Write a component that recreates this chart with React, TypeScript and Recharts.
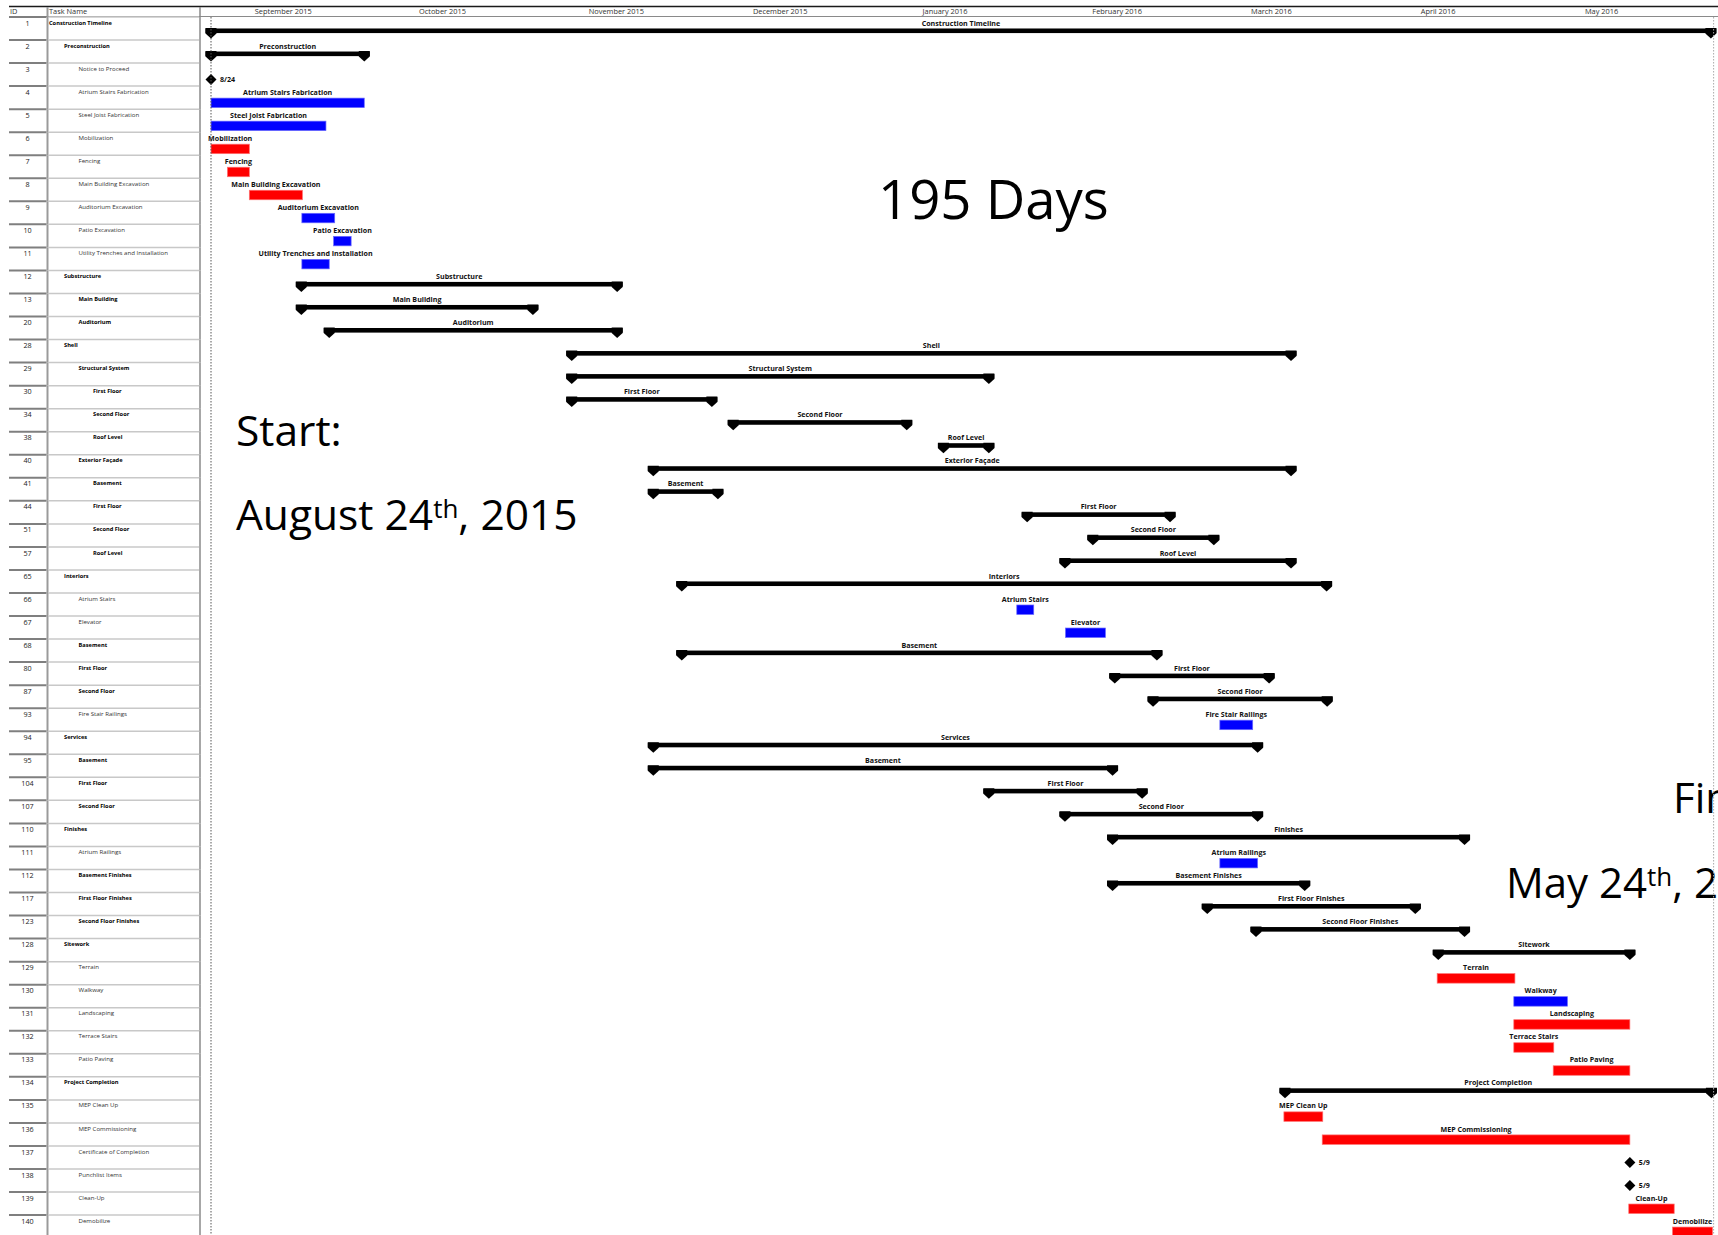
import React from 'react';
import { BarChart, Bar, XAxis, YAxis, ReferenceLine } from 'recharts';

// ---------------- data ----------------
const taskIds = [1, 2, 3, 4, 5, 6, 7, 8, 9, 10, 11, 12, 13, 20, 28, 29, 30, 34, 38, 40, 41, 44, 51, 57, 65, 66, 67, 68, 80, 87, 93, 94, 95, 104, 107, 110, 111, 112, 117, 123, 128, 129, 130, 131, 132, 133, 134, 135, 136, 137, 138, 139, 140];

const taskNames = [
  'Construction Timeline', 'Preconstruction', 'Notice to Proceed', 'Atrium Stairs Fabrication', 'Steel Joist Fabrication',
  'Mobilization', 'Fencing', 'Main Building Excavation', 'Auditorium Excavation', 'Patio Excavation',
  'Utility Trenches and Installation', 'Substructure', 'Main Building', 'Auditorium', 'Shell',
  'Structural System', 'First Floor', 'Second Floor', 'Roof Level', 'Exterior Façade',
  'Basement', 'First Floor', 'Second Floor', 'Roof Level', 'Interiors',
  'Atrium Stairs', 'Elevator', 'Basement', 'First Floor', 'Second Floor',
  'Fire Stair Railings', 'Services', 'Basement', 'First Floor', 'Second Floor',
  'Finishes', 'Atrium Railings', 'Basement Finishes', 'First Floor Finishes', 'Second Floor Finishes',
  'Sitework', 'Terrain', 'Walkway', 'Landscaping', 'Terrace Stairs',
  'Patio Paving', 'Project Completion', 'MEP Clean Up', 'MEP Commissioning', 'Certificate of Completion',
  'Punchlist Items', 'Clean-Up', 'Demobilize',
];

const outlineLevels = [0, 1, 2, 2, 2, 2, 2, 2, 2, 2, 2, 1, 2, 2, 1, 2, 3, 3, 3, 2, 3, 3, 3, 3, 1, 2, 2, 2, 2, 2, 2, 1, 2, 2, 2, 1, 2, 2, 2, 2, 1, 2, 2, 2, 2, 2, 1, 2, 2, 2, 2, 2, 2];

// S = summary, B = blue task, R = red task, M = milestone
const taskKinds = ['S', 'S', 'M', 'B', 'B', 'R', 'R', 'R', 'B', 'B', 'B', 'S', 'S', 'S', 'S', 'S', 'S', 'S', 'S', 'S', 'S', 'S', 'S', 'S', 'S', 'B', 'B', 'S', 'S', 'S', 'B', 'S', 'S', 'S', 'S', 'S', 'B', 'S', 'S', 'S', 'S', 'R', 'B', 'R', 'R', 'R', 'S', 'R', 'R', 'M', 'M', 'R', 'R'];

// days after Aug 24, 2015
const startDays = [0, 0, 0, 0, 0, 0, 3, 7, 16.6, 22.4, 16.6, 16.5, 16.5, 21.6, 65.9, 65.9, 65.9, 95.4, 133.8, 80.8, 80.8, 149.1, 161.1, 156, 86, 147.2, 156.1, 86, 165.1, 172.1, 184.3, 80.8, 80.8, 142.1, 156, 164.7, 184.3, 164.7, 182, 190.9, 224.2, 224, 238, 238, 238, 245.2, 196.2, 196, 203, 259.2, 259.2, 259, 267];
const finishDays = [274, 28, 0, 28, 21, 7, 7, 16.7, 22.6, 25.6, 21.6, 74.2, 58.8, 74.2, 197.3, 142.1, 91.5, 127.1, 142.1, 197.3, 92.6, 175.2, 183.2, 197.3, 203.8, 150.3, 163.4, 172.8, 193.3, 203.9, 190.3, 191.2, 164.7, 170.1, 191.2, 229, 191.2, 199.8, 220, 229, 259.2, 238.2, 247.8, 259.2, 245.3, 259.2, 274.1, 203.1, 259.2, 259.2, 259.2, 267.3, 274.3];

const milestoneNotes: Record<number, string> = { 3: '8/24', 137: '5/9', 138: '5/9' };

const monthStartDays = [8, 38, 69, 99, 130, 161, 190, 221, 251];
const monthLabels = ['September 2015', 'October 2015', 'November 2015', 'December 2015', 'January 2016', 'February 2016', 'March 2016', 'April 2016', 'May 2016'];

const PROJECT_START = 0;
const PROJECT_FINISH = 274.5;

// ---------------- layout ----------------
const W = 1718;
const H = 1240;
const HEADER_BOTTOM = 17;
const ROW_H = 23.04;
const PLOT_LEFT = 201;
const DAY_PX = 5.474;
const DAY0_X = 211;
const DOMAIN: [number, number] = [(PLOT_LEFT - DAY0_X) / DAY_PX, (W - DAY0_X) / DAY_PX];
const FONT = "'Open Sans', 'DejaVu Sans', sans-serif";
const INDENT = [49, 64, 78.5, 93];

const rows = taskIds.map((id, i) => ({
  id,
  name: taskNames[i],
  level: outlineLevels[i],
  kind: taskKinds[i],
  span: [startDays[i], finishDays[i]],
  note: milestoneNotes[id] || '',
}));

const COLORS: Record<string, { fill: string; stroke: string }> = {
  B: { fill: '#0000ff', stroke: '#6b6bff' },
  R: { fill: '#ff0000', stroke: '#ff7070' },
};

function TaskShape(props: any) {
  const { x, y, width, height } = props;
  const row = props.payload && props.payload.kind ? props.payload : props;
  const T = y + height / 2 - ROW_H / 2;
  const xs = x;
  const xe = x + width;
  const cx = (xs + xe) / 2;
  const label = (
    <text x={cx} y={T + 8.6} textAnchor="middle" fontFamily={FONT} fontSize={7.1} fontWeight={700} fill="#111">
      {row.name}
    </text>
  );
  if (row.kind === 'M') {
    const cy = T + 16.5;
    return (
      <g>
        <polygon points={`${xs},${cy - 5.5} ${xs + 5.5},${cy} ${xs},${cy + 5.5} ${xs - 5.5},${cy}`} fill="#000" />
        <text x={xs + 9} y={cy + 2.5} fontFamily={FONT} fontSize={7.1} fontWeight={700} fill="#111">
          {row.note}
        </text>
      </g>
    );
  }
  if (row.kind === 'S') {
    const cap = (c: number) =>
      `${c - 5.5},${T + 11} ${c + 5.5},${T + 11} ${c + 5.5},${T + 16.5} ${c},${T + 21.5} ${c - 5.5},${T + 16.5}`;
    return (
      <g>
        <rect x={xs - 5.5} y={T + 11.5} width={xe - xs + 11} height={4.6} fill="#000" />
        <polygon points={cap(xs)} fill="#000" />
        <polygon points={cap(xe)} fill="#000" />
        {label}
      </g>
    );
  }
  const c = COLORS[row.kind];
  return (
    <g>
      <rect x={xs} y={T + 12} width={Math.max(width, 0)} height={9.5} fill={c.fill} stroke={c.stroke} strokeWidth={0.7} />
      {label}
    </g>
  );
}

function RowTick(props: any) {
  const { y, payload } = props;
  const row = rows.find((r) => r.id === payload.value) || rows[payload.index];
  if (!row) return null;
  const T = y - ROW_H / 2;
  const bold = row.kind === 'S';
  return (
    <g>
      <line x1={9} x2={46.5} y1={T} y2={T} stroke="#7f7f7f" strokeWidth={2} />
      <line x1={48.5} x2={199} y1={T} y2={T} stroke="#c8c8c8" strokeWidth={1.5} />
      <line x1={47.5} x2={47.5} y1={T} y2={T + ROW_H} stroke="#9a9a9a" strokeWidth={2} />
      <line x1={200} x2={200} y1={T} y2={T + ROW_H} stroke="#8a8a8a" strokeWidth={1.5} />
      <text x={27.5} y={T + 8.6} textAnchor="middle" fontFamily={FONT} fontSize={7.2} fill="#222">
        {row.id}
      </text>
      <text x={INDENT[row.level]} y={T + 7.6} fontFamily={FONT} fontSize={bold ? 5.7 : 6.1} fontWeight={bold ? 700 : 400} fill={bold ? '#000' : '#333'}>
        {row.name}
      </text>
    </g>
  );
}

function MonthTick(props: any) {
  const { x, payload } = props;
  const i = monthStartDays.indexOf(payload.value);
  return (
    <text x={x} y={14} fontFamily={FONT} fontSize={7.4} fill="#333">
      {monthLabels[i]}
    </text>
  );
}

export default function App() {
  return (
    <div style={{ position: 'absolute', left: 0, top: 0, width: W, height: 1235, overflow: 'hidden', background: '#fff' }}>
      <BarChart
        width={W}
        height={H}
        data={rows}
        layout="vertical"
        barCategoryGap={0}
        margin={{ top: 6, right: 0, bottom: H - HEADER_BOTTOM - ROW_H * rows.length, left: 9 }}
      >
        <XAxis
          type="number"
          orientation="top"
          domain={DOMAIN}
          allowDataOverflow
          ticks={monthStartDays}
          interval={0}
          height={11}
          tick={MonthTick}
          tickLine={false}
          axisLine={false}
        />
        <YAxis
          type="category"
          dataKey="id"
          width={192}
          interval={0}
          tick={RowTick}
          tickLine={false}
          axisLine={false}
        />
        <Bar dataKey="span" isAnimationActive={false} shape={TaskShape} />
        <ReferenceLine x={PROJECT_START} stroke="#555" strokeWidth={1} strokeDasharray="1.5 1.5" />
        <ReferenceLine x={PROJECT_FINISH} stroke="#aaa" strokeWidth={1} strokeDasharray="1.5 1.5" />
        <g>
          <line x1={9} x2={W} y1={6.5} y2={6.5} stroke="#1a1a1a" strokeWidth={1.5} />
          <line x1={9} x2={W} y1={16.5} y2={16.5} stroke="#8a8a8a" strokeWidth={1.2} />
          <line x1={47.5} x2={47.5} y1={7} y2={17} stroke="#9a9a9a" strokeWidth={2} />
          <line x1={200} x2={200} y1={7} y2={17} stroke="#8a8a8a" strokeWidth={1.5} />
          <text x={10} y={14} fontFamily={FONT} fontSize={7.4} fill="#333">ID</text>
          <text x={49} y={14} fontFamily={FONT} fontSize={7.4} fill="#333">Task Name</text>
        </g>
        <g fontFamily={FONT} fill="#000">
          <text x={878} y={219} fontSize={54.5}>195 Days</text>
          <text x={236} y={446} fontSize={42.5}>Start:</text>
          <text x={236} y={530} fontSize={42.5}>
            August 24<tspan fontSize={26} dy={-12}>th</tspan><tspan dy={12}>, 2015</tspan>
          </text>
          <text x={1673} y={813} fontSize={42}>Finish:</text>
          <text x={1506} y={898} fontSize={42}>
            May 24<tspan fontSize={26} dy={-12}>th</tspan><tspan dy={12}>, 2016</tspan>
          </text>
        </g>
      </BarChart>
    </div>
  );
}
